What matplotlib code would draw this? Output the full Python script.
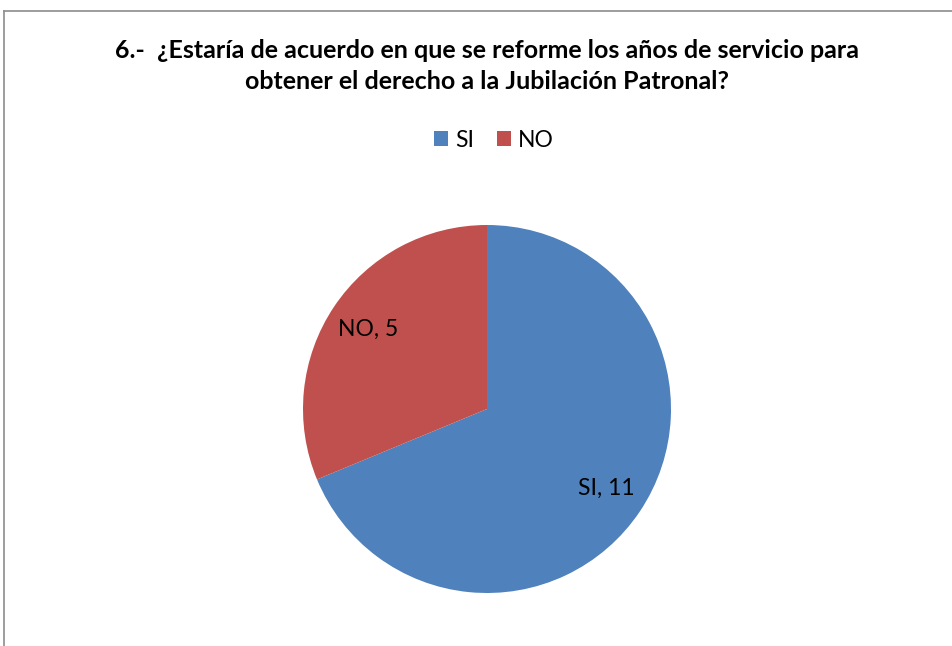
import matplotlib.pyplot as plt
from matplotlib.patches import Patch
from matplotlib.lines import Line2D

# data
categories = ["SI", "NO"]
values = [11, 5]
colors = ["#4F81BD", "#C0504D"]
title = "6.-  ¿Estaría de acuerdo en que se reforme los años de servicio para\nobtener el derecho a la Jubilación Patronal?"

W, H = 952, 646
fig = plt.figure(figsize=(W / 100, H / 100), dpi=100)
plt.rcParams['font.family'] = ['Lato', 'DejaVu Sans']

# chart frame (only left and top edges show in the crop)
fig.add_artist(Line2D([4 / W, 4 / W], [0, 1 - 11 / H], transform=fig.transFigure, color="#8c8c8c", lw=1.2))
fig.add_artist(Line2D([4 / W, 1], [1 - 11 / H, 1 - 11 / H], transform=fig.transFigure, color="#8c8c8c", lw=1.2))

# pie: centre (487, 409), radius 184 px
cx, cy, r = 487, 409, 184
ax = fig.add_axes([(cx - r) / W, 1 - (cy + r) / H, 2 * r / W, 2 * r / H])
labels = ["%s, %d" % (c, v) for c, v in zip(categories, values)]
wedges, texts = ax.pie(values, colors=colors, startangle=90, counterclock=False,
                       labels=labels, labeldistance=0.78,
                       wedgeprops=dict(linewidth=0))
for t in texts:
    t.set_ha("center")
    t.set_va("center")
    t.set_fontsize(16.5)
    t.set_color("black")
ax.set_xlim(-1, 1)
ax.set_ylim(-1, 1)
ax.set_aspect("equal")
ax.axis("off")

fig.text(cx / W, 1 - 66 / H, title, ha="center", va="center", fontsize=18,
         fontweight="bold", linespacing=1.45)

handles = [Patch(facecolor=c, edgecolor="none") for c in colors]
fig.legend(handles, categories, loc="center", bbox_to_anchor=(494 / W, 1 - 140 / H),
           ncol=2, frameon=False, fontsize=16.5, handlelength=0.6, handleheight=0.6,
           handletextpad=0.3, columnspacing=1.0)

fig.savefig("out.png", dpi=100)
